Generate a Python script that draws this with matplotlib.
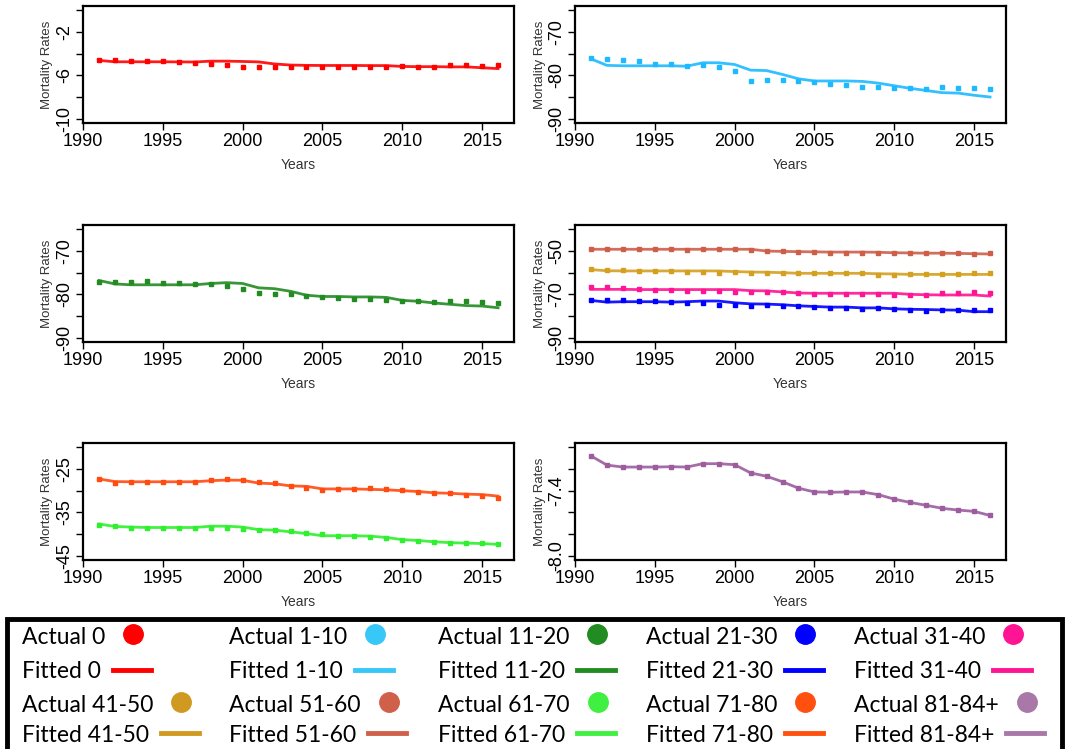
import numpy as np
import matplotlib.pyplot as plt
from matplotlib.lines import Line2D
from matplotlib.patches import Rectangle

# anios
years = list(range(1991, 2017))

# Edad 0
actual_0 = [-4.57, -4.57, -4.66, -4.69, -4.69, -4.78, -4.88, -4.97, -5.06, -5.22, -5.22, -5.20, -5.25,
            -5.25, -5.25, -5.25, -5.25, -5.25, -5.22, -5.15, -5.22, -5.25, -5.09, -5.09, -5.12, -5.06]
fitted_0 = [-4.62, -4.75, -4.75, -4.75, -4.75, -4.76, -4.77, -4.69, -4.69, -4.72, -4.76, -4.95, -5.05,
            -5.08, -5.09, -5.09, -5.09, -5.10, -5.10, -5.18, -5.20, -5.20, -5.22, -5.22, -5.30, -5.38]

# Edad 1-10
actual_1_10 = [-76.0, -76.3, -76.5, -76.6, -77.3, -77.4, -77.9, -77.7, -78.1, -79.0, -81.25, -81.0, -81.1,
               -81.25, -81.5, -81.9, -82.3, -82.6, -82.7, -83.0, -83.0, -83.1, -82.6, -83.0, -83.0, -83.1]
fitted_1_10 = [-76.2, -77.7, -77.8, -77.8, -77.8, -77.8, -77.9, -77.1, -77.1, -77.5, -78.8, -78.9, -79.8,
               -80.8, -81.3, -81.3, -81.3, -81.4, -81.8, -82.4, -83.0, -83.5, -84.0, -84.1, -84.6, -85.0]

# Edad 11-20
actual_11_20 = [-77.1, -77.1, -77.1, -76.9, -77.3, -77.3, -77.7, -77.7, -78.0, -78.8, -79.8, -80.0, -80.0,
                -80.4, -80.7, -80.9, -81.1, -81.1, -81.25, -81.6, -81.6, -81.8, -81.6, -81.6, -81.8, -82.0]
fitted_11_20 = [-76.8, -77.6, -77.8, -77.8, -77.8, -77.8, -77.8, -77.5, -77.3, -77.5, -78.5, -78.7, -79.3,
                -80.2, -80.5, -80.5, -80.6, -80.6, -80.7, -81.4, -81.6, -82.0, -82.3, -82.6, -82.7, -83.1]

# Edad 21-30
actual_21_30 = [-72.5, -72.5, -72.8, -73.3, -73.3, -73.6, -74.2, -74.2, -74.7, -75.0, -75.5, -75.0, -75.5,
                -75.5, -75.8, -76.25, -76.25, -76.7, -76.25, -76.6, -77.0, -77.5, -77.2, -77.2, -77.2, -77.0]
fitted_21_30 = [-72.8, -73.6, -73.4, -73.4, -73.4, -73.6, -73.4, -73.1, -73.1, -73.9, -74.4, -74.5, -74.8,
                -75.3, -75.6, -75.9, -75.9, -76.25, -76.25, -76.7, -76.9, -77.0, -77.2, -77.3, -78.0, -78.0]

# Edad 31-40
actual_31_40 = [-66.6, -66.6, -67.0, -67.5, -67.8, -67.8, -68.4, -68.4, -68.4, -68.75, -69.1, -69.1, -69.1,
                -69.4, -70.0, -70.0, -70.0, -70.0, -70.0, -70.5, -70.5, -70.5, -69.4, -69.4, -68.9, -69.2]
fitted_31_40 = [-67.7, -67.7, -67.7, -67.8, -67.8, -67.8, -67.8, -67.8, -67.8, -67.8, -68.3, -68.4, -68.9,
                -69.4, -69.5, -69.5, -69.5, -69.5, -69.5, -69.5, -70.0, -70.2, -70.3, -70.3, -70.3, -70.8]

# Edad 41-50
actual_41_50 = [-58.3, -58.75, -58.9, -59.1, -59.2, -59.2, -59.8, -59.8, -60.0, -59.8, -60.0, -60.0, -60.0,
                -60.3, -60.3, -60.3, -60.3, -60.3, -60.9, -60.9, -60.6, -60.6, -60.8, -60.6, -60.3, -60.3]
fitted_41_50 = [-58.6, -59.1, -59.2, -59.2, -59.2, -59.2, -59.2, -59.2, -59.2, -59.5, -59.7, -59.8, -60.0,
                -60.3, -60.3, -60.3, -60.3, -60.3, -60.5, -60.6, -60.8, -60.8, -60.8, -60.8, -60.8, -60.8]

# Edad 51-60
actual_51_60 = [-48.9, -48.9, -49.2, -49.2, -49.2, -49.2, -49.7, -49.2, -49.2, -49.2, -49.5, -50.2, -50.2,
                -50.5, -50.5, -51.1, -51.1, -51.1, -51.1, -50.9, -50.9, -50.9, -50.9, -50.9, -51.4, -50.9]
fitted_51_60 = [-49.2, -49.2, -49.2, -49.2, -49.2, -49.2, -49.2, -49.2, -49.2, -49.2, -49.2, -50.0, -50.2,
                -50.3, -50.4, -50.5, -50.5, -50.5, -50.6, -50.8, -50.9, -51.0, -51.0, -51.1, -51.25, -51.4]

# Edad 61-70
actual_61_70 = [-37.85, -38.1, -38.55, -38.6, -38.6, -38.6, -38.6, -38.5, -38.7, -38.95, -39.1, -39.1, -39.3,
                -39.7, -40.05, -40.4, -40.5, -40.75, -41.0, -41.4, -41.5, -41.8, -42.0, -42.1, -42.1, -42.3]
fitted_61_70 = [-37.7, -38.25, -38.4, -38.5, -38.5, -38.5, -38.5, -38.2, -38.2, -38.4, -39.0, -39.1, -39.5,
                -39.9, -40.4, -40.4, -40.4, -40.5, -40.8, -41.3, -41.5, -41.8, -42.0, -42.1, -42.2, -42.4]

# Edad 71-80
actual_71_80 = [-27.3, -28.25, -28.1, -28.1, -27.95, -27.95, -27.95, -27.5, -27.3, -27.6, -28.1, -28.3, -29.0,
                -29.4, -29.9, -29.7, -29.5, -29.4, -29.7, -29.8, -30.2, -30.5, -30.6, -30.9, -31.2, -31.6]
fitted_71_80 = [-27.3, -27.9, -27.95, -27.95, -27.95, -27.95, -27.95, -27.7, -27.55, -27.6, -28.25, -28.4, -28.9,
                -29.0, -29.6, -29.6, -29.6, -29.7, -29.8, -30.0, -30.2, -30.5, -30.6, -30.8, -30.9, -31.25]

# Edad 81-84+
actual_81_84 = [-7.079, -7.164, -7.182, -7.182, -7.182, -7.179, -7.182, -7.151, -7.151, -7.160, -7.236, -7.267,
                -7.318, -7.377, -7.412, -7.415, -7.412, -7.412, -7.437, -7.478, -7.509, -7.535, -7.563, -7.579,
                -7.591, -7.629]
fitted_81_84 = [-7.079, -7.164, -7.182, -7.182, -7.182, -7.179, -7.182, -7.151, -7.151, -7.160, -7.236, -7.267,
                -7.318, -7.377, -7.412, -7.415, -7.412, -7.412, -7.437, -7.478, -7.509, -7.535, -7.563, -7.579,
                -7.591, -7.629]

groups = ["0", "1-10", "11-20", "21-30", "31-40", "41-50", "51-60", "61-70", "71-80", "81-84+"]
colors = ["#FF0000", "#1EB9FF", "#228B22", "#0000FF", "#FF1493",
          "#D4A020", "#CD5F4A", "#2EF02E", "#FF4A10", "#9C5C9E"]
legend_colors = ["#FF0000", "#38C8F8", "#228B22", "#0000FF", "#FF1493",
                 "#D09A20", "#D0604A", "#40F040", "#FF5010", "#A878A8"]
actuals = [actual_0, actual_1_10, actual_11_20, actual_21_30, actual_31_40,
           actual_41_50, actual_51_60, actual_61_70, actual_71_80, actual_81_84]
fitteds = [fitted_0, fitted_1_10, fitted_11_20, fitted_21_30, fitted_31_40,
           fitted_41_50, fitted_51_60, fitted_61_70, fitted_71_80, fitted_81_84]

# cada panel: grupos, ticks, etiquetas visibles
panels = [
    ([0], [0, -2, -4, -6, -8, -10], ["", "-2", "", "-6", "", "-10"]),
    ([1], [-65, -70, -75, -80, -85, -90], ["", "-70", "", "-80", "", "-90"]),
    ([2], [-65, -70, -75, -80, -85, -90], ["", "-70", "", "-80", "", "-90"]),
    ([6, 5, 4, 3], [-40, -50, -60, -70, -80, -90], ["", "-50", "", "-70", "", "-90"]),
    ([8, 7], [-20, -25, -30, -35, -40, -45], ["", "-25", "", "-35", "", "-45"]),
    ([9], [-7.0, -7.2, -7.4, -7.6, -7.8, -8.0], ["", "", "-7.4", "", "", "-8.0"]),
]

W, H = 1065, 749
fig = plt.figure(figsize=(W / 100, H / 100), dpi=100)

lefts = [83, 575]
tops = [6, 225, 443]
aw, ah = 431, 117

for k, (idx, yt, ylab) in enumerate(panels):
    col = k % 2
    row = k // 2
    ax = fig.add_axes([lefts[col] / W, 1 - (tops[row] + ah) / H, aw / W, ah / H])
    for i in idx:
        ax.plot(years, fitteds[i], color=colors[i], lw=2, alpha=0.9, zorder=2)
        ax.plot(years, actuals[i], ls="none", marker="s", ms=3.5, color=colors[i], zorder=3)
    rng = yt[0] - yt[-1]
    ax.set_ylim(yt[-1] - 0.04 * rng, yt[0] + 0.04 * rng)
    ax.set_xlim(1990, 2017)
    ax.set_xticks([1990, 1995, 2000, 2005, 2010, 2015])
    ax.set_xticklabels(["1990", "1995", "2000", "2005", "2010", "2015"],
                       family="Liberation Sans", fontsize=13)
    ax.set_yticks(yt)
    ax.set_yticklabels(ylab, rotation=90, va="center", family="Liberation Sans", fontsize=13)
    ax.tick_params(direction="out", length=5, width=1, pad=2, colors="black")
    for s in ax.spines.values():
        s.set_linewidth(1.6)
    ax.set_ylabel("Mortality Rates", family="Liberation Sans", fontsize=9.5, color="#333333", labelpad=2)
    ax.set_xlabel("Years", family="Liberation Sans", fontsize=10,
                  color="#333333", labelpad=6)

# leyenda inferior
fig.patches.append(Rectangle((7 / W, -0.02), 1055 / W, (749 - 619) / H + 0.02, transform=fig.transFigure,
                             fill=False, edgecolor="black", linewidth=3.5))

col_x = [22, 229, 438, 646, 854]
row_y = [637, 672, 705, 735]
renderer = fig.canvas.get_renderer()
for i, g in enumerate(groups):
    c = i % 5
    r0 = 0 if i < 5 else 2
    for r, kind in [(r0, "Actual"), (r0 + 1, "Fitted")]:
        t = fig.text(col_x[c] / W, 1 - row_y[r] / H, kind + " " + g, family="Lato",
                     fontsize=16.5, va="center", ha="left")
        bb = t.get_window_extent(renderer)
        x_end = bb.x1
        if kind == "Actual":
            fig.add_artist(Line2D([(x_end + 28) / W], [1 - (row_y[r] - 3) / H], marker="o", ms=14,
                                  color=legend_colors[i], ls="none", transform=fig.transFigure))
        else:
            fig.add_artist(Line2D([(x_end + 12) / W, (x_end + 50) / W], [1 - (row_y[r] - 2) / H] * 2,
                                  lw=3.5, color=legend_colors[i], transform=fig.transFigure))

fig.savefig("out.png", dpi=100)
